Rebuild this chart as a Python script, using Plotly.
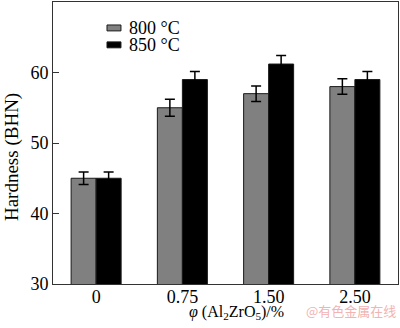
import plotly.graph_objects as go

# Hardness of the composite vs. Al2ZrO5 fraction at two processing temperatures
categories = ["0", "0.75", "1.50", "2.50"]
series_names = ["800 °C", "850 °C"]
hardness_800 = [45.0, 55.0, 57.0, 58.0]
hardness_850 = [45.0, 59.0, 61.2, 59.0]
err_800 = [0.9, 1.2, 1.1, 1.1]
err_850 = [0.9, 1.15, 1.2, 1.15]
y_ticks = [30, 40, 50, 60, 70]

colors = ["#808080", "#000000"]
serif = "Liberation Serif"

fig = go.Figure()
for name, vals, errs, col in zip(series_names, [hardness_800, hardness_850],
                                 [err_800, err_850], colors):
    fig.add_trace(go.Bar(
        x=categories, y=vals, name=name,
        marker=dict(color=col, line=dict(color="#1a1a1a", width=1)),
        error_y=dict(type="data", array=errs, visible=True,
                     color="#000000", thickness=1.5, width=5),
        showlegend=False,
    ))

fig.update_layout(
    width=400, height=328,
    margin=dict(l=53, r=2, t=2, b=44),
    paper_bgcolor="white", plot_bgcolor="white",
    barmode="group", bargap=0.42, bargroupgap=0,
    font=dict(family=serif, size=18, color="#000"),
)
fig.update_xaxes(
    range=[-0.5, 3.5], showline=True, linecolor="#333", linewidth=1,
    mirror=True, ticks="", showgrid=False, ticklabelstandoff=-4,
    tickfont=dict(family=serif, size=18, color="#000"),
)
fig.update_yaxes(
    range=[30, 70], tickvals=y_ticks, showline=True, linecolor="#333",
    linewidth=1, mirror=True, ticks="inside", ticklen=6, tickcolor="#333",
    showgrid=False, zeroline=False,
    tickfont=dict(family=serif, size=18, color="#000"),
)

# Legend swatches and labels
for i, (name, col) in enumerate(zip(series_names, colors)):
    y0 = 0.908 - i * 0.06
    fig.add_shape(type="rect", xref="paper", yref="paper",
                  x0=0.1565, x1=0.197, y0=y0 - 0.0105, y1=y0 + 0.0105,
                  fillcolor=col, line=dict(color="#1a1a1a", width=1))
    fig.add_annotation(xref="paper", yref="paper", x=0.215, y=y0,
                       text=name, showarrow=False, xanchor="left",
                       yanchor="middle", font=dict(size=18, family=serif))

# Axis titles
fig.add_annotation(xref="paper", yref="paper", x=-0.119, y=0.45,
                   text="Hardness (BHN)", textangle=-90, showarrow=False,
                   xanchor="center", yanchor="middle",
                   font=dict(size=19, family=serif))
fig.add_annotation(xref="paper", yref="paper", x=0.533, y=-0.1,
                   text="<i>φ</i> (Al<sub>2</sub>ZrO<sub>5</sub>)/%",
                   showarrow=False, xanchor="center", yanchor="middle",
                   font=dict(size=16, family=serif))
fig.add_annotation(xref="paper", yref="paper", x=1.0, y=-0.095,
                   text="@有色金属在线", showarrow=False, xanchor="right",
                   yanchor="middle",
                   font=dict(size=13, family="Noto Sans CJK SC", color="#f2b3b3"))

fig.write_html("out.html")
